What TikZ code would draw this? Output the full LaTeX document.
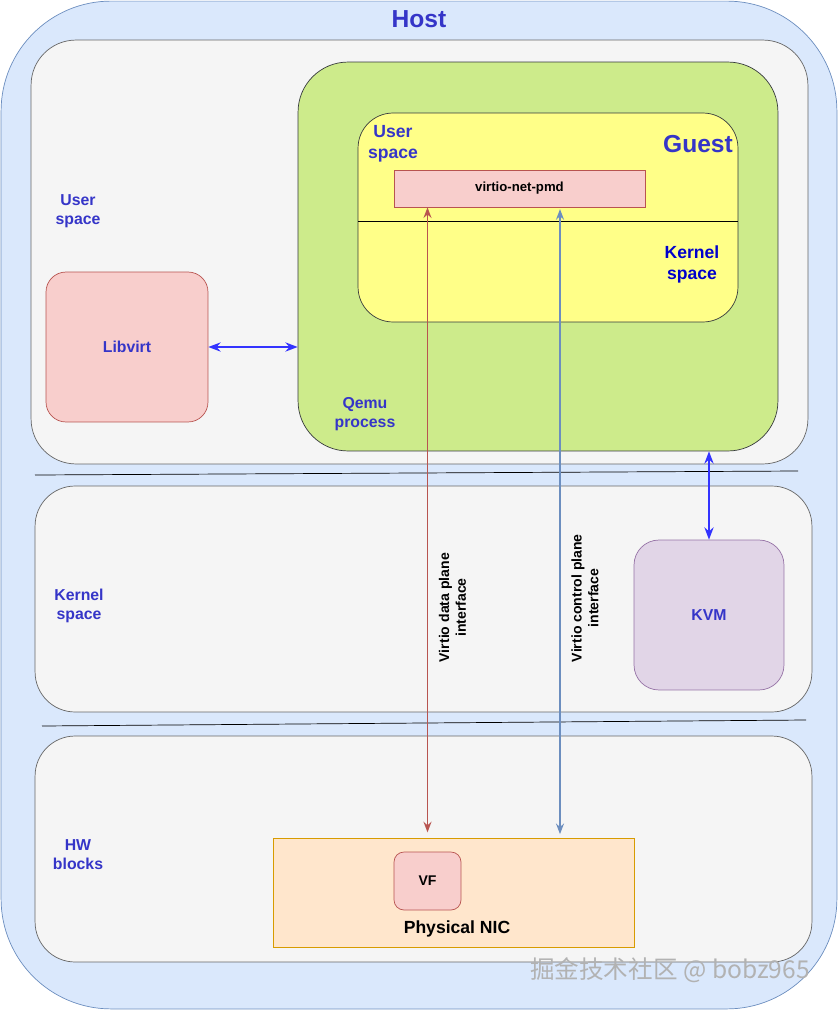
\documentclass[tikz,border=0pt]{standalone}
\usepackage{fontspec}
\setmainfont{Liberation Sans}
\newfontfamily\cjkfont{Noto Sans CJK SC}
\usetikzlibrary{arrows.meta}

\definecolor{hostfill}{HTML}{DAE8FC}
\definecolor{hostdraw}{HTML}{6C8EBF}
\definecolor{regfill}{HTML}{F5F5F5}
\definecolor{regdraw}{HTML}{666666}
\definecolor{qemufill}{HTML}{CDEB8B}
\definecolor{darkdraw}{HTML}{36393D}
\definecolor{guestfill}{HTML}{FFFF88}
\definecolor{pinkfill}{HTML}{F8CECC}
\definecolor{pinkdraw}{HTML}{B85450}
\definecolor{kvmfill}{HTML}{E1D5E7}
\definecolor{kvmdraw}{HTML}{9673A6}
\definecolor{nicfill}{HTML}{FFE6CC}
\definecolor{nicdraw}{HTML}{D79B00}
\definecolor{lblblue}{HTML}{3535C8}
\definecolor{arrblue}{HTML}{3333FF}

\tikzset{
	box/.style={draw, inner sep=0pt, minimum width=#1},
	lbl/.style={text=lblblue, align=center, font=\bfseries\fontsize{9}{10.8}\selectfont},
	big/.style={text=lblblue, font=\bfseries\fontsize{14}{17}\selectfont},
	iface/.style={rotate=90, anchor=north, align=center, inner sep=2pt, outer sep=4.5pt, font=\bfseries\fontsize{8}{9.6}\selectfont}
}

\begin{document}
\begin{tikzpicture}[x=0.02cm,y=-0.02cm]
	\useasboundingbox (0,0) rectangle (839,1011);

	% regions
	\node[box=16.72cm, minimum height=20.16cm, rounded corners=2.2cm, fill=hostfill, draw=hostdraw] (host) at (419,505) {};
	\node[box=15.54cm, minimum height=8.48cm, rounded corners=0.9cm, fill=regfill, draw=regdraw] (userreg) at (419.5,252) {};
	\node[box=15.54cm, minimum height=4.52cm, rounded corners=0.8cm, fill=regfill, draw=regdraw] (kernreg) at (423.5,599) {};
	\node[box=15.54cm, minimum height=4.52cm, rounded corners=0.8cm, fill=regfill, draw=regdraw] (hwreg) at (423.5,849) {};
	\draw (35,475) -- (798,471);
	\draw (42,726) -- (806,720);

	% qemu and guest
	\node[box=9.6cm, minimum height=7.78cm, rounded corners=1cm, fill=qemufill, draw=darkdraw] (qemu) at (538,256.5) {};
	\node[box=7.6cm, minimum height=4.18cm, rounded corners=0.7cm, fill=guestfill, draw=darkdraw] (guest) at (548,217.5) {};
	\draw (358,221) -- (738,221);
	\node[box=5.02cm, minimum height=0.74cm, fill=pinkfill, draw=pinkdraw, font=\bfseries\fontsize{7.5}{9}\selectfont] (pmd) at (519.5,188.5) {virtio-net-pmd};

	% side boxes
	\node[box=3.24cm, minimum height=3cm, rounded corners=0.4cm, fill=pinkfill, draw=pinkdraw, lbl] (libvirt) at (127,347) {Libvirt};
	\node[box=3cm, minimum height=3cm, rounded corners=0.5cm, fill=kvmfill, draw=kvmdraw, lbl] (kvm) at (709,615) {KVM};
	\node[box=7.22cm, minimum height=2.18cm, fill=nicfill, draw=nicdraw] (nic) at (453.5,892.5) {};
	\node[box=1.34cm, minimum height=1.16cm, rounded corners=0.2cm, fill=pinkfill, draw=pinkdraw, font=\bfseries\fontsize{8}{9.6}\selectfont] (vf) at (427.5,881) {VF};
	\node[font=\bfseries\fontsize{10}{12}\selectfont] (niclbl) at (457,929) {Physical NIC};

	% labels
	\node[big] (hostlbl) at (419,19) {Host};
	\node[big] (guestlbl) at (698,144) {Guest};
	\node[lbl] (userlbl) at (78,211) {User\\space};
	\node[lbl] (kernlbl) at (79,606) {Kernel\\space};
	\node[lbl] (hwlbl) at (78,855) {HW\\blocks};
	\node[lbl] (qemulbl) at (365,414) {Qemu\\process};
	\node[lbl, font=\bfseries\fontsize{10}{12}\selectfont] (guser) at (393,144) {User\\space};
	\node[lbl, text=blue!80!black, font=\bfseries\fontsize{10}{12}\selectfont] (gkern) at (692,264) {Kernel\\space};

	% connectors
	\coordinate (ctl) at (560,0);
	\draw[{Stealth[length=7pt]}-{Stealth[length=7pt]}, line width=1.1pt, arrblue] (libvirt.east) -- (libvirt.east -| qemu.west);
	\draw[{Stealth[length=7pt]}-{Stealth[length=7pt]}, line width=1.1pt, arrblue] (kvm.north) -- (kvm.north |- qemu.south);
	\draw[{Stealth[length=6pt]}-{Stealth[length=6pt]}, line width=1pt, pinkdraw, shorten >=3pt] (vf |- pmd.south) -- (vf |- nic.north)
		node[iface, text=black, pos=0.635] (datalbl) {Virtio data plane\\interface};
	\draw[{Stealth[length=6pt]}-{Stealth[length=6pt]}, line width=1pt, hostdraw, shorten <=1pt, shorten >=2pt] (ctl |- pmd.south) -- (ctl |- nic.north)
		node[iface, text=black, pos=0.62] (ctllbl) {Virtio control plane\\interface};

	% watermark
	\node[text=gray!60, font=\cjkfont\fontsize{14}{17}\selectfont] (mark) at (670,970) {掘金技术社区 @ bobz965};
\end{tikzpicture}
\end{document}
